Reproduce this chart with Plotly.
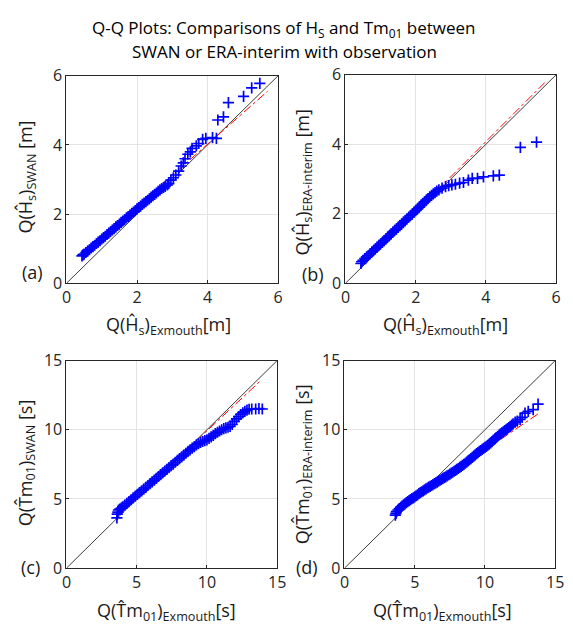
import plotly.graph_objects as go

# ---------------- data ----------------
# (a) Hs: SWAN vs Exmouth
a_x = [0.44, 0.47, 0.50, 0.55, 0.60, 0.65, 0.70, 0.75, 0.80, 0.85, 0.90, 0.95, 1.00, 1.05,
       1.10, 1.15, 1.20, 1.25, 1.30, 1.35, 1.40, 1.45, 1.50, 1.55, 1.60, 1.65, 1.70, 1.75,
       1.80, 1.85, 1.90, 1.95, 2.00, 2.05, 2.10, 2.15, 2.20, 2.25, 2.30, 2.35, 2.40, 2.45,
       2.50, 2.55, 2.60, 2.65, 2.70, 2.75, 2.80, 2.86, 2.90, 2.96, 3.03, 3.10, 3.18, 3.25,
       3.31, 3.36, 3.44, 3.51, 3.56, 3.68, 3.75, 3.86, 3.95, 4.14, 4.25, 4.29, 4.45, 4.59,
       5.02, 5.25, 5.48]
a_y = [0.79, 0.82, 0.84, 0.89, 0.93, 0.97, 1.02, 1.06, 1.10, 1.15, 1.19, 1.23, 1.28, 1.32,
       1.36, 1.41, 1.45, 1.49, 1.54, 1.58, 1.63, 1.67, 1.71, 1.76, 1.80, 1.84, 1.89, 1.93,
       1.97, 2.02, 2.06, 2.10, 2.15, 2.19, 2.23, 2.28, 2.32, 2.36, 2.40, 2.44, 2.49, 2.53,
       2.57, 2.61, 2.66, 2.70, 2.74, 2.77, 2.80, 2.84, 2.88, 2.98, 3.05, 3.13, 3.24, 3.39,
       3.48, 3.60, 3.73, 3.80, 3.90, 3.97, 4.04, 4.16, 4.19, 4.21, 4.19, 4.72, 4.81, 5.22,
       5.40, 5.65, 5.78]
a_ref_x = [0.44, 5.70]
a_ref_y = [0.82, 5.55]

# (b) Hs: ERA-interim vs Exmouth
b_x = [0.44, 0.46, 0.50, 0.55, 0.60, 0.65, 0.70, 0.75, 0.80, 0.85, 0.90, 0.95, 1.00, 1.05,
       1.10, 1.15, 1.20, 1.25, 1.30, 1.35, 1.40, 1.45, 1.50, 1.55, 1.60, 1.65, 1.70, 1.75,
       1.80, 1.85, 1.90, 1.95, 2.00, 2.05, 2.10, 2.15, 2.20, 2.25, 2.30, 2.35, 2.40, 2.45,
       2.50, 2.55, 2.60, 2.66, 2.75, 2.85, 2.94, 3.03, 3.13, 3.25, 3.36, 3.50, 3.61, 3.76,
       3.93, 4.21, 4.38, 4.98, 5.44]
b_y = [0.57, 0.62, 0.66, 0.71, 0.75, 0.80, 0.85, 0.90, 0.94, 0.99, 1.04, 1.09, 1.13, 1.18,
       1.23, 1.28, 1.33, 1.37, 1.42, 1.47, 1.52, 1.56, 1.61, 1.66, 1.71, 1.76, 1.80, 1.85,
       1.90, 1.95, 1.99, 2.04, 2.09, 2.14, 2.19, 2.24, 2.29, 2.34, 2.39, 2.44, 2.49, 2.53,
       2.57, 2.61, 2.65, 2.69, 2.74, 2.78, 2.81, 2.83, 2.85, 2.88, 2.90, 2.97, 3.02, 3.02,
       3.06, 3.09, 3.11, 3.91, 4.06]
b_ref_x = [2.60, 5.70]
b_ref_y = [2.66, 5.80]

# (c) Tm01: SWAN vs Exmouth
c_x = [3.59, 3.62, 3.66, 3.70, 3.80, 3.90, 4.00, 4.15, 4.30, 4.45, 4.60, 4.75, 4.90, 5.05,
       5.20, 5.35, 5.50, 5.65, 5.80, 5.95, 6.10, 6.25, 6.40, 6.55, 6.70, 6.85, 7.00, 7.15,
       7.30, 7.45, 7.60, 7.75, 7.90, 8.05, 8.20, 8.35, 8.50, 8.65, 8.80, 8.95, 9.10, 9.25,
       9.40, 9.55, 9.70, 9.85, 10.00, 10.15, 10.30, 10.45, 10.60, 10.75, 10.90, 11.05,
       11.20, 11.35, 11.50, 11.65, 11.80, 11.95, 12.10, 12.25, 12.40, 12.55, 12.70, 12.85,
       13.00, 13.19, 13.47, 13.70, 13.94]
c_y = [3.63, 3.90, 4.05, 4.20, 4.27, 4.34, 4.42, 4.55, 4.68, 4.81, 4.94, 5.07, 5.20, 5.33,
       5.45, 5.58, 5.71, 5.84, 5.97, 6.10, 6.23, 6.36, 6.49, 6.62, 6.75, 6.88, 7.01, 7.14,
       7.27, 7.40, 7.52, 7.65, 7.78, 7.91, 8.04, 8.17, 8.30, 8.43, 8.55, 8.67, 8.78, 8.90,
       9.00, 9.09, 9.15, 9.21, 9.27, 9.38, 9.48, 9.60, 9.72, 9.82, 9.91, 10.00,
       10.08, 10.14, 10.18, 10.24, 10.38, 10.60, 10.78, 10.95, 11.10, 11.22, 11.32, 11.42,
       11.48, 11.50, 11.50, 11.52, 11.50]
c_ref_x = [3.60, 13.89]
c_ref_y = [3.85, 13.61]

# (d) Tm01: ERA-interim vs Exmouth
d_x = [3.62, 3.66, 3.70, 3.80, 3.90, 4.00, 4.10, 4.20, 4.30, 4.40, 4.50, 4.60, 4.70, 4.80,
       4.90, 5.00, 5.10, 5.20, 5.30, 5.40, 5.50, 5.60, 5.70, 5.80, 5.90, 6.00, 6.10, 6.20,
       6.30, 6.40, 6.50, 6.60, 6.70, 6.80, 6.90, 7.00, 7.10, 7.20, 7.30, 7.40, 7.50, 7.60,
       7.70, 7.80, 7.90, 8.00, 8.10, 8.20, 8.30, 8.40, 8.50, 8.60, 8.70, 8.80, 8.90, 9.00,
       9.10, 9.20, 9.30, 9.40, 9.50, 9.60, 9.70, 9.80, 9.90, 10.00, 10.10, 10.20, 10.30,
       10.40, 10.50, 10.60, 10.70, 10.80, 10.90, 11.00, 11.10, 11.20, 11.30, 11.40, 11.50,
       11.60, 11.70, 11.80, 11.90, 12.00, 12.15, 12.30, 12.50, 12.65, 12.85, 13.08, 13.43,
       13.78]
d_y = [3.83, 3.95, 4.08, 4.20, 4.30, 4.40, 4.49, 4.57, 4.65, 4.73, 4.81, 4.88, 4.95, 5.02,
       5.08, 5.15, 5.23, 5.30, 5.38, 5.45, 5.52, 5.58, 5.65, 5.72, 5.79, 5.85, 5.91, 5.97,
       6.04, 6.10, 6.16, 6.22, 6.29, 6.35, 6.42, 6.48, 6.54, 6.60, 6.67, 6.73, 6.80, 6.86,
       6.93, 7.00, 7.06, 7.13, 7.20, 7.28, 7.35, 7.43, 7.50, 7.58, 7.66, 7.75, 7.83, 7.92,
       8.01, 8.10, 8.18, 8.27, 8.35, 8.43, 8.50, 8.58, 8.65, 8.72, 8.80, 8.88, 8.96,
       9.05, 9.14, 9.24, 9.34, 9.44, 9.53, 9.62, 9.70, 9.78, 9.85, 9.93, 10.00,
       10.08, 10.16, 10.25, 10.33, 10.42, 10.55, 10.62, 10.75, 10.90, 11.20, 11.32, 11.46,
       11.85]
d_ref_x = [3.70, 13.89]
d_ref_y = [4.19, 11.22]

hs_diag = [0, 6]
tm_diag = [0, 15]
hs_ticks = [0, 2, 4, 6]
tm_ticks = [0, 5, 10, 15]

# ---------------- figure ----------------
W, H = 573, 639
FONT = "Open Sans"
TXT = "#262626"
fig = go.Figure()

panels = [
    ("x", "y", a_x, a_y, a_ref_x, a_ref_y, hs_diag),
    ("x2", "y2", b_x, b_y, b_ref_x, b_ref_y, hs_diag),
    ("x3", "y3", c_x, c_y, c_ref_x, c_ref_y, tm_diag),
    ("x4", "y4", d_x, d_y, d_ref_x, d_ref_y, tm_diag),
]
for xa, ya, px, py, rx, ry, dg in panels:
    fig.add_trace(go.Scatter(x=dg, y=dg, xaxis=xa, yaxis=ya, mode="lines",
                             line=dict(color="#3c3c3c", width=1), hoverinfo="skip"))
    fig.add_trace(go.Scatter(x=rx, y=ry, xaxis=xa, yaxis=ya, mode="lines",
                             line=dict(color="#ff0000", width=1, dash="dashdot")))
    fig.add_trace(go.Scatter(x=px, y=py, xaxis=xa, yaxis=ya, mode="markers",
                             marker=dict(symbol="cross-thin", size=8,
                                         line=dict(color="#0000ff", width=1.7))))


def px2x(p):
    return p / W


def px2y(p):
    return 1 - p / H


boxes = {
    "a": (63, 280, 67, 282),
    "b": (349, 565, 66, 282),
    "c": (63, 279, 362, 577),
    "d": (348, 564, 362, 577),
}
axis_common = dict(showline=True, mirror=True, linecolor="#262626", linewidth=1,
                   ticks="inside", ticklen=3, tickcolor="#262626",
                   showgrid=True, gridcolor="#e3e3e3", gridwidth=1, zeroline=False,
                   tickfont=dict(family=FONT, size=16, color=TXT))

layout = dict(width=W, height=H, margin=dict(l=0, r=0, t=0, b=0),
              paper_bgcolor="white", plot_bgcolor="white", showlegend=False)
names = [("xaxis", "yaxis", "a", hs_ticks), ("xaxis2", "yaxis2", "b", hs_ticks),
         ("xaxis3", "yaxis3", "c", tm_ticks), ("xaxis4", "yaxis4", "d", tm_ticks)]
for i, (xn, yn, key, tv) in enumerate(names):
    l, r, t, b = boxes[key]
    anchor_y = "y" if i == 0 else f"y{i+1}"
    anchor_x = "x" if i == 0 else f"x{i+1}"
    layout[xn] = dict(domain=[px2x(l), px2x(r)], range=[tv[0], tv[-1]], tickvals=tv,
                      anchor=anchor_y, **axis_common)
    layout[yn] = dict(domain=[px2y(b), px2y(t)], range=[tv[0], tv[-1]], tickvals=tv,
                      anchor=anchor_x, **axis_common)
fig.update_layout(**layout)

ann = []


def add_text(text, x, y, size=18, angle=0, color="#1a1a1a"):
    ann.append(dict(text=text, x=px2x(x), y=px2y(y), xref="paper", yref="paper",
                    showarrow=False, textangle=angle, xanchor="center", yanchor="middle",
                    font=dict(family=FONT, size=size, color=color)))


# title
add_text("Q-Q Plots: Comparisons of H<sub>S</sub> and Tm<sub>01</sub> between", 286, 18,
         size=17, color="#000000")
add_text("SWAN or ERA-interim with observation", 286, 42, size=17, color="#000000")

HS = "Ĥ<sub>s</sub>"
TM = "T̂m<sub>01</sub>"
# y titles
add_text(f"Q({HS})<sub>SWAN</sub> [m]", 22, 172, angle=-90)
add_text(f"Q({HS})<sub>ERA-interim</sub> [m]", 306, 178, angle=-90)
add_text(f"Q({TM})<sub>SWAN</sub> [s]", 22, 468, angle=-90)
add_text(f"Q({TM})<sub>ERA-interim</sub> [s]", 306, 470, angle=-90)
# x titles
add_text(f"Q({HS})<sub>Exmouth</sub>[m]", 168, 326)
add_text(f"Q({HS})<sub>Exmouth</sub>[m]", 452, 326)
add_text(f"Q({TM})<sub>Exmouth</sub>[s]", 166, 622)
add_text(f"Q({TM})<sub>Exmouth</sub>[s]", 448, 622)
# panel labels
add_text("(a)", 28, 270)
add_text("(b)", 316, 272)
add_text("(c)", 26, 576)
add_text("(d)", 310, 576)

fig.update_layout(annotations=ann)
fig.write_html("out.html")
